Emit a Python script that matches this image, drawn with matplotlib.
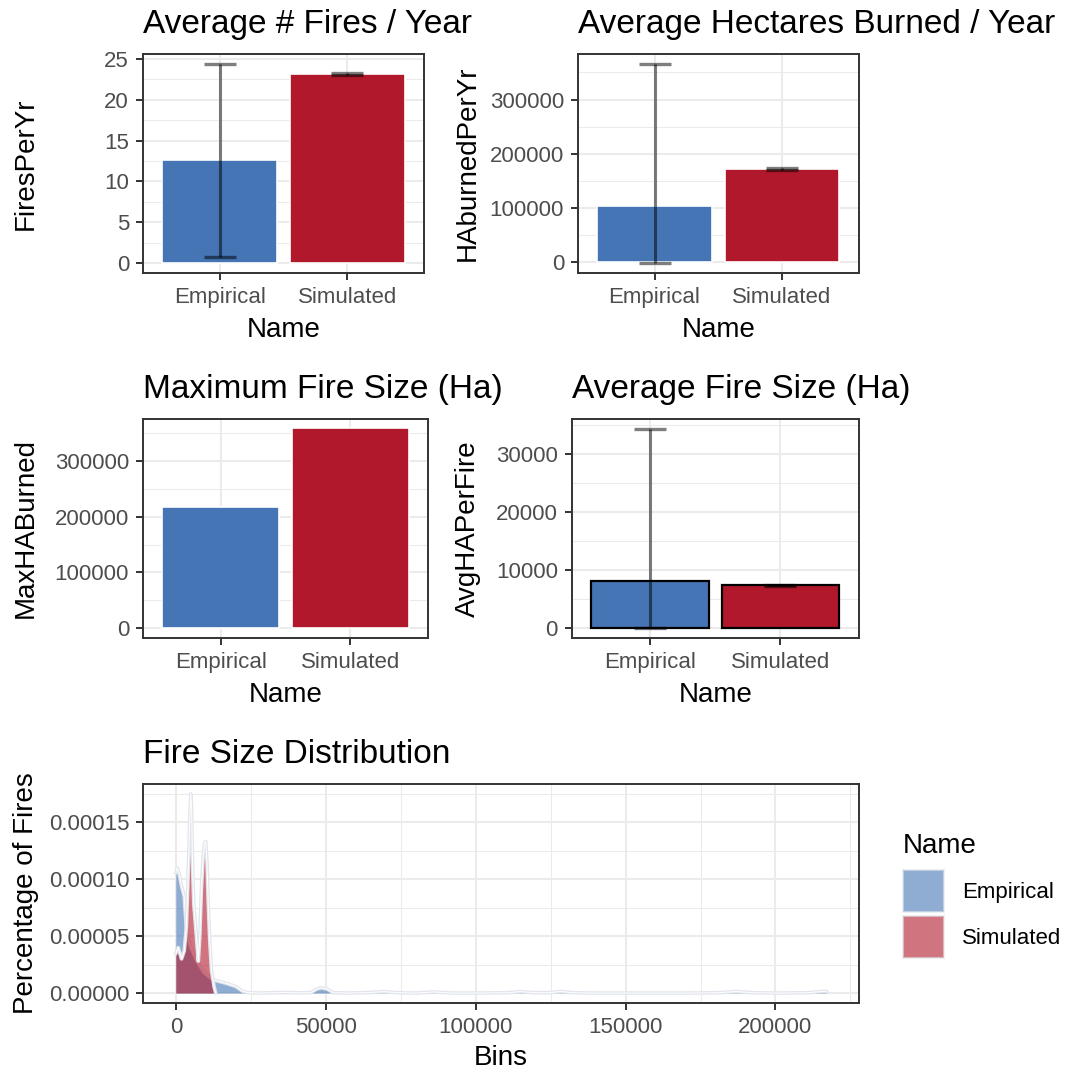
import matplotlib.pyplot as plt
from matplotlib.patches import Patch
from matplotlib.ticker import MultipleLocator, StrMethodFormatter

plt.rcParams['font.family'] = ['Liberation Sans', 'DejaVu Sans']

names = ['Empirical', 'Simulated']
colors = ['#4575B4', '#B2182B']

# bar summaries (mean with lower/upper error limits)
fires_per_yr = [12.6, 23.15]
fires_lo = [0.8, 23.0]
fires_hi = [24.4, 23.3]

ha_per_yr = [103700, 172000]
ha_lo = [-2400, 170500]
ha_hi = [365800, 173500]

max_ha = [216500, 358000]

avg_ha_fire = [8140, 7280]
avg_lo = [-100, 7110]
avg_hi = [34190, 7450]

# fire size density curves
emp_bins = [0, 500, 1100, 1900, 2800, 3300, 3700, 5000, 7200, 9400, 11700, 13300,
            15500, 17200, 20000, 22200, 24000, 28000, 34000, 37000, 40000, 45000,
            47000, 48500, 50500, 52500, 57000, 62000, 69500, 75000, 80000, 86000,
            92000, 100000, 110000, 115000, 120000, 124000, 128500, 133000, 140000,
            150000, 160000, 170000, 180000, 187000, 193000, 200000, 210000, 216000, 217000]
emp_dens = [1.06e-4, 1.10e-4, 1.05e-4, 9.4e-5, 8.5e-5, 6.5e-5, 5.2e-5, 4.0e-5, 2.7e-5,
            1.8e-5, 1.3e-5, 1.1e-5, 9.5e-6, 8.2e-6, 5.8e-6, 1.7e-6, 3e-7, 0.0, 3e-7,
            5e-7, 2e-7, 3e-7, 3.5e-6, 4.6e-6, 3.5e-6, 3e-7, 0.0, 2e-7, 1.2e-6, 2e-7,
            0.0, 1e-6, 0.0, 0.0, 2e-7, 1.2e-6, 3e-7, 3e-7, 1.3e-6, 2e-7, 0.0, 0.0,
            0.0, 0.0, 2e-7, 1.3e-6, 2e-7, 0.0, 2e-7, 1.5e-6, 1.3e-6]

sim_bins = [0, 800, 1900, 2800, 3500, 4000, 4400, 4750, 5000, 5250, 5600, 6000, 6700,
            7500, 8000, 8500, 9100, 9600, 10000, 10400, 10800, 11300, 11900, 12800, 13300]
sim_dens = [3.5e-5, 4.0e-5, 3.0e-5, 3.7e-5, 5.8e-5, 9.5e-5, 1.3e-4, 1.62e-4, 1.75e-4,
            1.62e-4, 1.1e-4, 7.8e-5, 5.5e-5, 2.8e-5, 5.0e-5, 9.0e-5, 1.2e-4, 1.32e-4,
            1.33e-4, 1.15e-4, 8.0e-5, 4.6e-5, 2.0e-5, 5e-6, 0.0]

W, H = 1081, 1073
fig = plt.figure(figsize=(W / 100, H / 100), dpi=100)


def panel(l, t, r, b):
    ax = fig.add_axes([l / W, 1 - b / H, (r - l) / W, (b - t) / H])
    ax.box_px = (l, t, r, b)
    return ax


def style(ax, title, xlabel, ylabel, ylab_px, xlab_py):
    l, t, r, b = ax.box_px
    ax.set_title(title, loc='left', fontsize=24, pad=15)
    ax.set_xlabel(xlabel, fontsize=20)
    ax.set_ylabel(ylabel, fontsize=20)
    ax.xaxis.set_label_coords(0.5, (b - xlab_py) / (b - t))
    ax.yaxis.set_label_coords((ylab_px - l) / (r - l), 0.5)
    ax.grid(which='major', color='#EBEBEB', lw=1.5)
    ax.grid(which='minor', color='#EBEBEB', lw=0.75)
    ax.set_axisbelow(True)
    ax.tick_params(which='major', length=5, width=1.4, color='#333333',
                   labelsize=16, labelcolor='#4D4D4D', pad=5)
    ax.tick_params(which='minor', length=0)
    for s in ax.spines.values():
        s.set_color('#333333')
        s.set_linewidth(1.4)


def bars(ax, vals, lo=None, hi=None, edge='white', step=1):
    x = [1, 2]
    ax.bar(x, vals, width=0.9, color=colors, edgecolor=edge,
           linewidth=1.2 if edge == 'white' else 1.6, zorder=2)
    top = max(vals)
    bottom = 0
    if lo is not None:
        yerr = [[v - a for v, a in zip(vals, lo)], [b - v for v, b in zip(vals, hi)]]
        ax.errorbar(x, vals, yerr=yerr, fmt='none', ecolor='black', alpha=0.5,
                    elinewidth=2.2, capsize=11.5, capthick=2.4, zorder=3)
        top = max(top, max(hi))
        bottom = min(0, min(lo))
    span = top - bottom
    ax.set_ylim(bottom - 0.05 * span, top + 0.05 * span)
    ax.set_xlim(0.4, 2.6)
    ax.set_xticks(x, names)
    ax.yaxis.set_major_locator(MultipleLocator(step))
    ax.yaxis.set_minor_locator(MultipleLocator(step / 2))
    ax.yaxis.set_major_formatter(StrMethodFormatter('{x:.0f}'))


ax1 = panel(143, 54, 424, 273)
bars(ax1, fires_per_yr, fires_lo, fires_hi, step=5)
style(ax1, 'Average # Fires / Year', 'Name', 'FiresPerYr', 39, 317)

ax2 = panel(578, 54, 858.5, 273)
bars(ax2, ha_per_yr, ha_lo, ha_hi, step=100000)
style(ax2, 'Average Hectares Burned / Year', 'Name', 'HAburnedPerYr', 481, 317)

ax3 = panel(143, 418.5, 428, 638.3)
bars(ax3, max_ha, step=100000)
style(ax3, 'Maximum Fire Size (Ha)', 'Name', 'MaxHABurned', 39, 682)

ax4 = panel(571.7, 419.3, 858.7, 638.3)
bars(ax4, avg_ha_fire, avg_lo, avg_hi, edge='black', step=10000)
style(ax4, 'Average Fire Size (Ha)', 'Name', 'AvgHAPerFire', 481, 682)

# density panel
ax5 = panel(143.3, 784, 859, 1003)
for bins, dens, c in [(emp_bins, emp_dens, colors[0]), (sim_bins, sim_dens, colors[1])]:
    ax5.fill_between(bins, dens, color=c, alpha=0.6, lw=0, zorder=2)
    ax5.plot(bins, dens, color='#E2E6EC', lw=2.6, solid_joinstyle='round', zorder=2)
    ax5.plot(bins, dens, color='white', lw=0.7, zorder=2)
xspan = max(emp_bins) - min(emp_bins)
ax5.set_xlim(-0.05 * xspan, max(emp_bins) + 0.05 * xspan)
ymax = max(max(emp_dens), max(sim_dens))
ax5.set_ylim(-0.05 * ymax, 1.05 * ymax)
ax5.xaxis.set_major_locator(MultipleLocator(50000))
ax5.xaxis.set_minor_locator(MultipleLocator(25000))
ax5.yaxis.set_major_locator(MultipleLocator(0.00005))
ax5.yaxis.set_minor_locator(MultipleLocator(0.000025))
ax5.xaxis.set_major_formatter(StrMethodFormatter('{x:.0f}'))
ax5.yaxis.set_major_formatter(StrMethodFormatter('{x:.5f}'))
style(ax5, 'Fire Size Distribution', 'Bins', 'Percentage of Fires', 39, 1045)

# legend: title as its own text, keys below it
fig.text(903 / W, 1 - 853 / H, 'Name', fontsize=20, ha='left', va='baseline')
handles = [Patch(facecolor=c, alpha=0.6, edgecolor='#E2E6EC', lw=1.5) for c in colors]
fig.legend(handles, names, loc='upper left',
           bbox_to_anchor=(903 / W, 1 - 870 / H), bbox_transform=fig.transFigure,
           frameon=False, fontsize=16, handlelength=1.85,
           handleheight=2.55, labelspacing=0.15, handletextpad=0.8, borderpad=0,
           borderaxespad=0)

fig.savefig('out.png', dpi=100)
